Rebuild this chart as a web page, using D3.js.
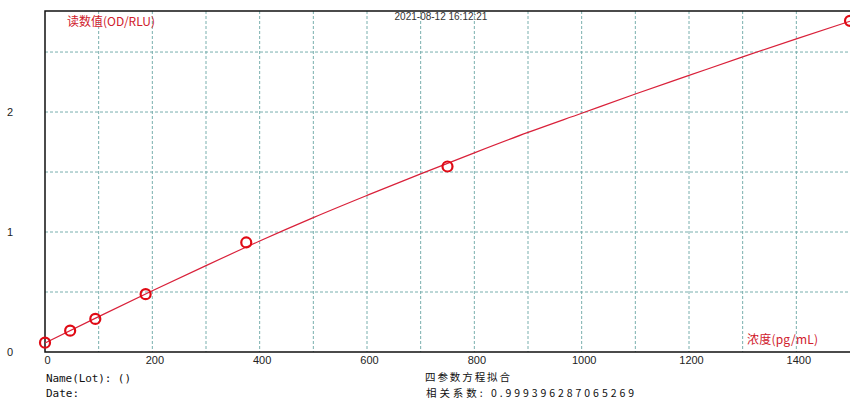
<!DOCTYPE html>
<html>
<head>
<meta charset="utf-8">
<script src="https://cdn.jsdelivr.net/npm/d3@7"></script>
<style>
  body { margin: 0; background: #fff; }
  svg { display: block; }
</style>
</head>
<body>
<script>
// standard points (concentration pg/mL, reading)
const conc = [0, 46.875, 93.75, 187.5, 375, 750, 1500];
const reading = [0.078, 0.178, 0.276, 0.482, 0.913, 1.546, 2.76];

// fitted curve
const fitX = [0, 100, 200, 300, 400, 500, 600, 700, 800, 900, 1000, 1100, 1200, 1300, 1400, 1500];
const fitY = [0.075, 0.295, 0.51, 0.72, 0.925, 1.12, 1.305, 1.485, 1.66, 1.83, 1.99, 2.15, 2.305, 2.46, 2.61, 2.757];

const xTickLabels = [0, 200, 400, 600, 800, 1000, 1200, 1400];
const yTickLabels = [0, 1, 2];
const xGrid = [100, 200, 300, 400, 500, 600, 700, 800, 900, 1000, 1100, 1200, 1300, 1400];
const yGrid = [0.5, 1, 1.5, 2, 2.5];

const W = 850, H = 400;
const pLeft = 45, pRight = 850, pTop = 11, pBottom = 352;

const svg = d3.select("body").append("svg")
  .attr("width", W)
  .attr("height", H);

const x = d3.scaleLinear().domain([0, 1500]).range([pLeft, pRight]);
const y = d3.scaleLinear().domain([0, 2.842]).range([pBottom, pTop]);

// grid
svg.append("g")
  .selectAll("line")
  .data(xGrid)
  .join("line")
  .attr("x1", d => x(d)).attr("x2", d => x(d))
  .attr("y1", pTop).attr("y2", pBottom)
  .attr("stroke", "#79afae")
  .attr("stroke-width", 1)
  .attr("stroke-dasharray", "3,2");

svg.append("g")
  .selectAll("line")
  .data(yGrid)
  .join("line")
  .attr("x1", pLeft).attr("x2", pRight)
  .attr("y1", d => y(d)).attr("y2", d => y(d))
  .attr("stroke", "#79afae")
  .attr("stroke-width", 1)
  .attr("stroke-dasharray", "3,2");

// frame: top, left, bottom
svg.append("path")
  .attr("d", `M${pRight},${pTop}H${pLeft}V${pBottom}H${pRight}`)
  .attr("fill", "none")
  .attr("stroke", "#111")
  .attr("stroke-width", 1.5);

// tick labels through axes
const xAxis = svg.append("g")
  .attr("transform", `translate(2,${pBottom + 1})`)
  .call(d3.axisBottom(x).tickValues(xTickLabels).tickSize(0).tickFormat(d3.format("d")));
xAxis.select(".domain").remove();
xAxis.selectAll("text")
  .attr("font-family", "Liberation Sans, Arial, sans-serif")
  .attr("font-size", 11)
  .attr("fill", "#222");

const yAxis = svg.append("g")
  .attr("transform", `translate(16,0)`)
  .call(d3.axisLeft(y).tickValues(yTickLabels).tickSize(0).tickFormat(d3.format("d")));
yAxis.select(".domain").remove();
yAxis.selectAll("text")
  .attr("font-family", "Liberation Sans, Arial, sans-serif")
  .attr("font-size", 11)
  .attr("fill", "#222");

// fitted curve
const line = d3.line()
  .x((d, i) => x(fitX[i]))
  .y(d => y(d))
  .curve(d3.curveMonotoneX);

svg.append("path")
  .datum(fitY)
  .attr("d", line)
  .attr("fill", "none")
  .attr("stroke", "#d9213a")
  .attr("stroke-width", 1.2);

// standard points
svg.append("g")
  .selectAll("circle")
  .data(conc)
  .join("circle")
  .attr("cx", d => x(d))
  .attr("cy", (d, i) => y(reading[i]))
  .attr("r", 5)
  .attr("fill", "none")
  .attr("stroke", "#e00a14")
  .attr("stroke-width", 2.2);

// titles and notes
const cjk = "'Noto Sans CJK SC', 'Noto Sans CJK JP', sans-serif";

svg.append("text")
  .attr("x", 67).attr("y", 26)
  .attr("font-family", cjk)
  .attr("font-size", 12)
  .attr("fill", "#d0202c")
  .attr("textLength", 88)
  .text("读数值(OD/RLU)");

svg.append("text")
  .attr("x", 441).attr("y", 20)
  .attr("text-anchor", "middle")
  .attr("font-family", "Liberation Sans, Arial, sans-serif")
  .attr("font-size", 10)
  .attr("fill", "#333")
  .text("2021-08-12 16:12:21");

svg.append("text")
  .attr("x", 747).attr("y", 344)
  .attr("font-family", cjk)
  .attr("font-size", 12)
  .attr("fill", "#d0202c")
  .attr("textLength", 71)
  .text("浓度(pg/mL)");

svg.append("text")
  .attr("x", 46).attr("y", 382)
  .attr("font-family", "'DejaVu Sans Mono', monospace")
  .attr("font-size", 11)
  .attr("fill", "#111")
  .attr("textLength", 85)
  .text("Name(Lot): ()");

svg.append("text")
  .attr("x", 46).attr("y", 397)
  .attr("font-family", "'DejaVu Sans Mono', monospace")
  .attr("font-size", 11)
  .attr("fill", "#111")
  .text("Date:");

svg.append("text")
  .attr("x", 425).attr("y", 381)
  .attr("font-family", cjk)
  .attr("font-size", 10.5)
  .attr("fill", "#111")
  .attr("textLength", 85)
  .text("四参数方程拟合");

svg.append("text")
  .attr("x", 426).attr("y", 396.5)
  .attr("font-family", cjk)
  .attr("font-size", 10.5)
  .attr("fill", "#111")
  .attr("textLength", 208)
  .text("相关系数:  0.999396287065269");
</script>
</body>
</html>
